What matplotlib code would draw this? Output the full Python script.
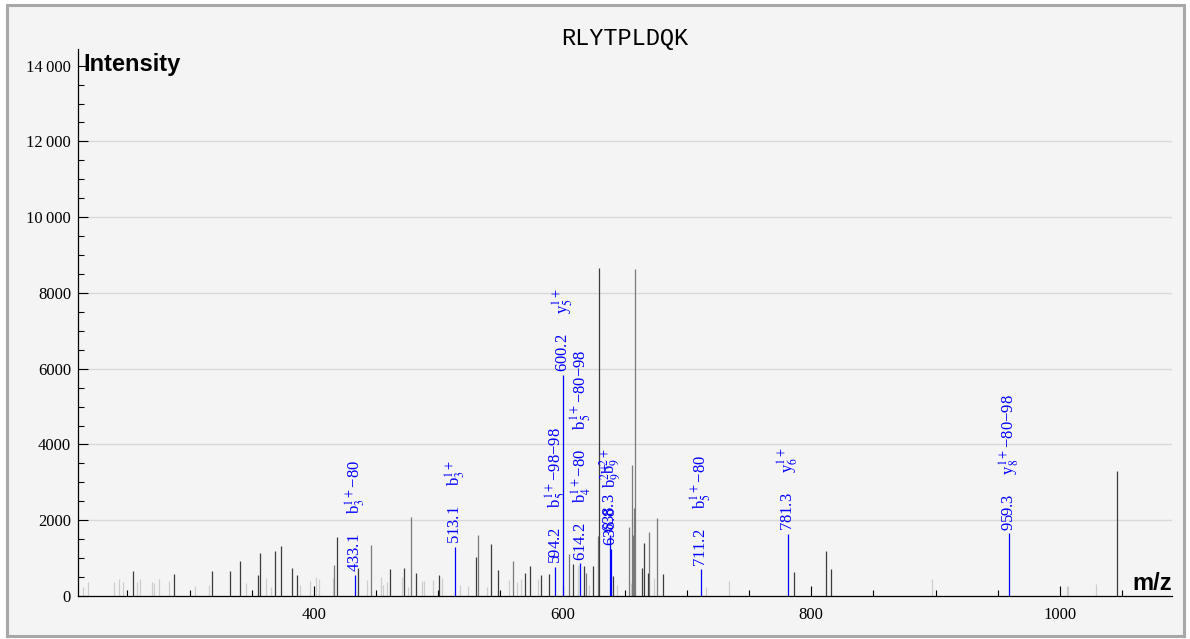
import matplotlib
matplotlib.use("Agg")
import matplotlib.pyplot as plt
from matplotlib.ticker import MultipleLocator, FuncFormatter
from matplotlib.patches import Rectangle

plt.rcParams['font.family'] = ['Liberation Serif', 'DejaVu Serif']
plt.rcParams['mathtext.fontset'] = 'stix'

title = "RLYTPLDQK"

# unannotated peaks: m/z, intensity, shade (0 dark, 1 mid, 2 light)
peak_mz = [214.6, 218.1, 239.5, 243.5, 246.3, 254.5, 257.5, 260.4, 269.6, 271.7,
           275.5, 283.5, 287.8, 304.6, 315.7, 317.8, 332.8, 340.6, 345.7, 354.8,
           356.7, 361.7, 365.8, 368.7, 373.6, 382.7, 386.7, 388.9, 396.9, 401.7,
           403.9, 415.2, 416.4, 418.9, 435.1, 443.0, 445.7, 453.9, 455.8, 458.8,
           461.0, 470.6, 472.7, 475.7, 477.9, 482.1, 486.7, 488.8, 496.0, 500.9,
           502.8, 517.5, 523.7, 530.2, 531.8, 539.0, 542.2, 547.8, 556.9, 559.9,
           563.6, 566.6, 570.0, 573.8, 580.5, 583.0, 588.9, 605.0, 608.2, 612.4,
           616.9, 618.9, 621.4, 624.2, 628.3, 629.1, 640.8, 644.0, 653.7, 655.0,
           655.8, 656.9, 657.7, 658.5, 663.7, 665.7, 668.9, 669.8, 673.6, 676.0,
           681.0, 715.4, 733.9, 786.1, 812.1, 816.1, 897.4, 1005.5, 1006.5, 1029.3,
           1046.1]
peak_int = [230, 377, 377, 441, 377, 660, 377, 441, 370, 351,
            457, 396, 581, 264, 290, 668, 652, 916, 335, 554,
            1127, 467, 230, 1180, 1320, 731, 554, 290, 396, 493,
            441, 467, 815, 1565, 739, 422, 1346, 509, 290, 377,
            713, 509, 747, 245, 2077, 615, 404, 404, 422, 554,
            467, 290, 272, 1021, 1610, 245, 1372, 686, 422, 932,
            377, 441, 615, 792, 441, 554, 581, 1108, 845, 818,
            792, 600, 290, 792, 1583, 8669, 528, 290, 1829, 335,
            3457, 1610, 2314, 8622, 731, 1407, 615, 1697, 467, 2051,
            581, 245, 396, 625, 1188, 705, 449, 272, 260, 309,
            3307]
peak_shade = [2, 2, 2, 2, 2, 0, 2, 2, 2, 2,
              2, 2, 0, 2, 2, 0, 0, 0, 2, 0,
              0, 2, 2, 0, 0, 0, 0, 2, 2, 2,
              2, 2, 1, 0, 0, 2, 1, 2, 2, 2,
              0, 2, 0, 2, 1, 0, 2, 2, 2, 0,
              2, 2, 2, 0, 1, 2, 0, 0, 2, 1,
              2, 2, 0, 0, 2, 0, 0, 1, 0, 2,
              0, 1, 2, 0, 1, 0, 0, 2, 1, 2,
              1, 1, 1, 1, 0, 0, 0, 1, 2, 1,
              0, 2, 2, 0, 0, 0, 2, 2, 2, 2,
              0]

# annotated (matched) peaks
ann_mz = [433.1, 513.1, 594.2, 600.2, 614.2, 638.3, 638.8, 711.2, 781.3, 959.3]
ann_int = [554, 1301, 774, 5832, 863, 1610, 1250, 705, 1637, 1655]
ann_labels = [
    ["433.1", "b$_3^{1+}$\u221280"],
    ["513.1", "b$_3^{1+}$"],
    ["594.2", "b$_5^{1+}$\u221298\u221298"],
    ["600.2", "y$_5^{1+}$"],
    ["614.2", "b$_4^{1+}$\u221280", "b$_5^{1+}$\u221280\u221298"],
    ["638.3", "b$_9^{2+}$"],
    ["638.8", "b$_9^{2+}$"],
    ["711.2", "b$_5^{1+}$\u221280"],
    ["781.3", "y$_6^{1+}$"],
    ["959.3", "y$_8^{1+}$\u221280\u221298"],
]

shade_colors = ["#3c3c3c", "#7a7a7a", "#cdcdcd"]

fig = plt.figure(figsize=(11.9, 6.39), dpi=100)
fig.patch.set_facecolor("white")
frame = Rectangle((7 / 1190, 3 / 639), 1177 / 1190, 631 / 639,
                  transform=fig.transFigure, facecolor="#f4f4f4",
                  edgecolor="#a8a8a8", linewidth=2.2, zorder=-10)
fig.patches.append(frame)

ax = fig.add_axes([78 / 1190, 43 / 639, 1094 / 1190, 547 / 639])
ax.set_facecolor("none")

for v in range(2000, 14000, 2000):
    ax.axhline(v, color="#d9d9d9", linewidth=1, zorder=0)

# light ones first so darker ones sit on top
for s in [2, 1, 0]:
    xs = [m for m, sh in zip(peak_mz, peak_shade) if sh == s]
    hs = [h for h, sh in zip(peak_int, peak_shade) if sh == s]
    ax.vlines(xs, 0, hs, colors=shade_colors[s], linewidth=0.9, zorder=2)

ax.vlines(ann_mz, 0, ann_int, colors="#0000ff", linewidth=0.9, zorder=3)

for m, h, labs in zip(ann_mz, ann_int, ann_labels):
    ax.annotate("     ".join(labs), (m, h), xytext=(0, 2), textcoords="offset points",
                rotation=90, ha="center", va="bottom", color="#0000ff",
                fontsize=12, zorder=4)

ax.set_xlim(210.3, 1090.1)
ax.set_ylim(0, 14440)

ax.spines["top"].set_visible(False)
ax.spines["right"].set_visible(False)
ax.spines["left"].set_linewidth(0.9)
ax.spines["bottom"].set_linewidth(0.9)

ax.xaxis.set_major_locator(MultipleLocator(200))
ax.xaxis.set_minor_locator(MultipleLocator(50))
ax.yaxis.set_major_locator(MultipleLocator(2000))
ax.yaxis.set_minor_locator(MultipleLocator(500))


def yfmt(v, pos):
    v = int(round(v))
    if v >= 10000:
        return str(v // 1000) + "\u2009" + "%03d" % (v % 1000)
    return str(v)


ax.yaxis.set_major_formatter(FuncFormatter(yfmt))
ax.tick_params(which="major", direction="in", length=7, width=0.8, labelsize=12)
ax.tick_params(which="minor", direction="in", length=4.3, width=0.8)
ax.tick_params(axis="y", pad=5)
ax.tick_params(axis="x", pad=8)

fig.text(625 / 1190, 1 - 38 / 639, title, family="Liberation Mono", fontsize=17,
         ha="center", va="center")
fig.text(83 / 1190, 1 - 64 / 639, "Intensity", family="Liberation Sans",
         fontweight="bold", fontsize=17, ha="left", va="center")
fig.text(1172 / 1190, 1 - 590 / 639, "m/z", family="Liberation Sans",
         fontweight="bold", fontsize=17, ha="right", va="baseline")

fig.savefig("out.png", dpi=100, facecolor=fig.get_facecolor())
